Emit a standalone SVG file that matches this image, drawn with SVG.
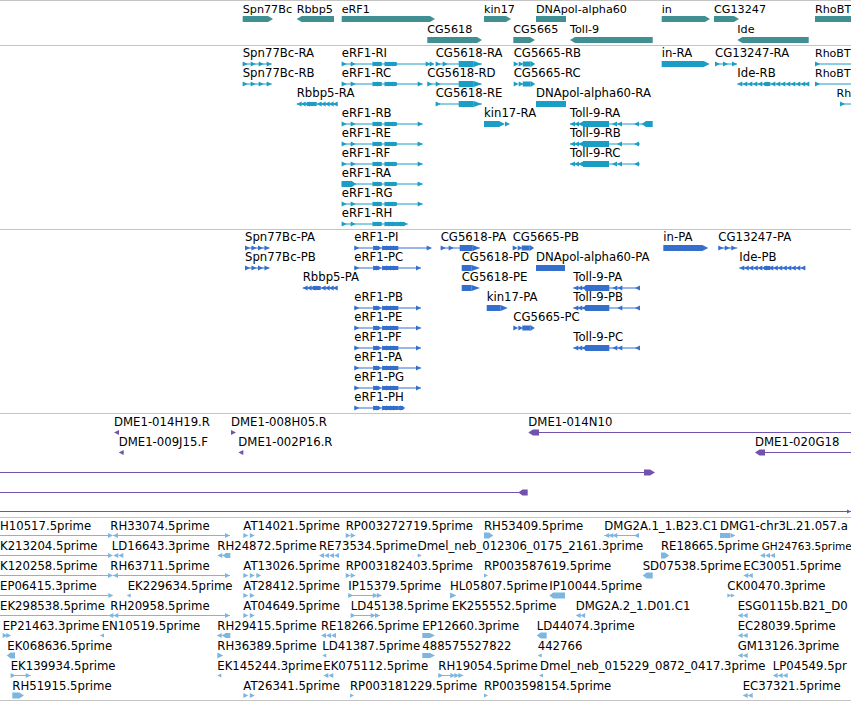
<svg xmlns="http://www.w3.org/2000/svg" width="851" height="701" viewBox="0 0 851 701">
<style>
text{font-family:"DejaVu Sans","Liberation Sans",sans-serif;font-size:11.7px;fill:#000}
#track-genes text{font-size:11.2px}
text.edge{font-size:11px}
text.edge2{font-size:10.5px}
.sep{stroke:#c4c4c4;stroke-width:1;fill:none}
.g{fill:#3f8f93}
.c2{color:#1b9ec5}
.c3{color:#346fcd}
.c4{color:#7352ae}
.c5{color:#7db6e0}
.ln{stroke:currentColor;stroke-width:1;fill:none}
.bx,use{fill:currentColor}
</style>
<defs>
<path id="R" d="M0,-2.5L5,0L0,2.5Z"/>
<path id="L" d="M5,-2.5L0,0L5,2.5Z"/>
<path id="Rs" d="M0,-2L4,0L0,2Z"/>
<path id="Ls" d="M4,-2L0,0L4,2Z"/>
<g id="s4a"><path class="ln" d="M0,0H29"/><use href="#R"/><use href="#R" x="8"/><use href="#R" x="16"/><use href="#R" x="24"/></g>
<g id="s4b"><path class="ln" d="M0,0H24.5"/><use href="#R"/><use href="#R" x="6.5"/><use href="#R" x="13"/><use href="#R" x="19.5"/></g>
<g id="e2b"><use href="#R"/><use href="#R" x="9"/><rect x="31" y="-2" width="9" height="4"/><use href="#R" x="31"/><use href="#R" x="35.5"/><rect x="43" y="-2" width="12" height="4"/><use href="#R" x="43"/><use href="#R" x="47"/><use href="#R" x="51"/></g>
<g id="e3b"><use href="#R"/><rect x="19" y="-2" width="6" height="4"/><use href="#R" x="19"/><use href="#R" x="22"/><rect x="28" y="-2" width="16" height="4"/><use href="#R" x="28"/><use href="#R" x="32"/><use href="#R" x="36"/><use href="#R" x="39"/></g>
<g id="e2"><path class="ln" d="M0,0H81"/><use href="#e2b"/><use href="#R" x="76"/></g>
<g id="e3"><path class="ln" d="M0,0H66.7"/><use href="#e3b"/><use href="#R" x="61.7"/></g>
<g id="toll2"><use href="#L"/><use href="#L" x="4"/><use href="#L" x="8"/><rect x="13" y="-3" width="26" height="6"/></g>
<g id="toll3"><use href="#L"/><use href="#L" x="4"/><use href="#L" x="8"/><rect x="12" y="-3" width="24" height="6"/></g>
</defs>

<g id="separators">
<path class="sep" d="M0,0.5H851M0,45.5H851M0,229.5H851M0,413.5H851M0,517.5H851M0,700.5H851"/>
</g>

<g id="track-genes">
<g id="Spn77Bc"><text x="242.7" y="12.5">Spn77Bc</text><path class="g" d="M242.7,16H268L273,19L268,22H242.7Z"/></g>
<g id="Rbbp5"><text x="296.7" y="12.5">Rbbp5</text><path class="g" d="M334,16H301.7L296.7,19L301.7,22H334Z"/></g>
<g id="eRF1"><text x="341.7" y="12.5">eRF1</text><path class="g" d="M341.7,16H430L435,19L430,22H341.7Z"/></g>
<g id="kin17"><text x="484" y="12.5">kin17</text><path class="g" d="M484,16H506L511,19L506,22H484Z"/></g>
<g id="DNApol-alpha60"><text x="536" y="12.5">DNApol-alpha60</text><rect class="g" x="536" y="16" width="30" height="6"/></g>
<g id="in"><text x="661.7" y="12.5">in</text><path class="g" d="M661.7,16H705L710,19L705,22H661.7Z"/></g>
<g id="CG13247"><text x="714" y="12.5">CG13247</text><path class="g" d="M714,16H734L739,19L734,22H714Z"/></g>
<g id="RhoBT"><text class="edge" x="815" y="12.5">RhoBT</text><rect class="g" x="815" y="16" width="36" height="6"/></g>
<g id="CG5618"><text x="427.3" y="33.3">CG5618</text><path class="g" d="M427.3,37H477L482,40L477,43H427.3Z"/></g>
<g id="CG5665"><text x="513.3" y="33.3">CG5665</text><path class="g" d="M513.3,37H530L535,40L530,43H513.3Z"/></g>
<g id="Toll-9"><text x="570" y="33.3">Toll-9</text><path class="g" d="M652.7,37H575L570,40L575,43H652.7Z"/></g>
<g id="Ide"><text x="737.3" y="33.3">Ide</text><path class="g" d="M808.7,37H742.3L737.3,40L742.3,43H808.7Z"/></g>
</g>

<g id="track-transcripts" class="c2">
<g id="Spn77Bc-RA" transform="translate(242.7,64)"><text y="-6.7">Spn77Bc-RA</text><use href="#s4a"/></g>
<g id="eRF1-RI" transform="translate(341.7,64)"><text y="-6.7">eRF1-RI</text><path class="ln" d="M0,0H91"/><use href="#e2b"/><use href="#R" x="84"/><use href="#R" x="88"/></g>
<g id="CG5618-RA" transform="translate(435.7,64)"><text y="-6.7">CG5618-RA</text><path class="ln" d="M0,0H46"/><use href="#R"/><use href="#R" x="7"/><rect class="bx" x="23" y="-3" width="15" height="6"/><path class="bx" d="M38,-3L46.3,0L38,3Z"/></g>
<g id="CG5665-RB" transform="translate(513.7,64)"><text y="-6.7">CG5665-RB</text><use href="#R"/><use href="#R" x="5"/><rect class="bx" x="9" y="-2.5" width="8" height="5"/><path class="bx" d="M17,-3L21.5,0L17,3Z"/></g>
<g id="in-RA" transform="translate(661.7,64)"><text y="-6.7">in-RA</text><path class="bx" d="M0,-3H42L48,0L42,3H0Z"/></g>
<g id="CG13247-RA" transform="translate(715,64)"><text y="-6.7">CG13247-RA</text><path class="ln" d="M0,0H22"/><use href="#R"/><use href="#R" x="8"/><use href="#R" x="17"/></g>
<g id="RhoBT-RA" transform="translate(815,64)"><text class="edge" y="-6.7">RhoBT</text><path class="ln" d="M0,0H36"/><use href="#R"/></g>

<g id="Spn77Bc-RB" transform="translate(242.7,84)"><text y="-6.7">Spn77Bc-RB</text><use href="#s4a"/></g>
<g id="eRF1-RC" transform="translate(341.7,84)"><text y="-6.7">eRF1-RC</text><use href="#e2"/></g>
<g id="CG5618-RD" transform="translate(427.3,84)"><text y="-6.7">CG5618-RD</text><path class="ln" d="M0,0H54"/><use href="#R"/><use href="#R" x="8.4"/><rect class="bx" x="31.4" y="-3" width="15" height="6"/><path class="bx" d="M46.4,-3L54.7,0L46.4,3Z"/></g>
<g id="CG5665-RC" transform="translate(513.7,84)"><text y="-6.7">CG5665-RC</text><use href="#R"/><use href="#R" x="5"/><rect class="bx" x="9" y="-2.5" width="8" height="5"/><path class="bx" d="M17,-3L21.5,0L17,3Z"/></g>
<g id="Ide-RB" transform="translate(737.3,84)"><text y="-6.7">Ide-RB</text><path class="ln" d="M0,0H71"/><use href="#L"/><use href="#L" x="5"/><use href="#L" x="10"/><use href="#L" x="15"/><use href="#L" x="20"/><use href="#L" x="25"/><rect class="bx" x="27" y="-2" width="6" height="4"/><use href="#L" x="33"/><use href="#L" x="38"/><use href="#L" x="43"/><use href="#L" x="48"/><use href="#L" x="53"/><use href="#L" x="58"/><use href="#L" x="63"/><use href="#L" x="67"/></g>
<g id="RhoBT-RB" transform="translate(815,84)"><text class="edge" y="-6.7">RhoBT</text><path class="ln" d="M0,0H36"/><use href="#R"/></g>

<g id="Rbbp5-RA" transform="translate(296.7,104)"><text y="-6.7">Rbbp5-RA</text><path class="ln" d="M0,0H41"/><use href="#L"/><use href="#L" x="4"/><use href="#L" x="8"/><rect class="bx" x="10" y="-2" width="10" height="4"/><use href="#L" x="20"/><use href="#L" x="24"/><use href="#L" x="28"/><use href="#L" x="32"/><use href="#L" x="36"/></g>
<g id="CG5618-RE" transform="translate(435.7,104)"><text y="-6.7">CG5618-RE</text><path class="ln" d="M0,0H46"/><use href="#R"/><rect class="bx" x="23" y="-3" width="15" height="6"/><path class="bx" d="M38,-3L46.3,0L38,3Z"/></g>
<g id="DNApol-alpha60-RA" transform="translate(536,104)"><text y="-6.7">DNApol-alpha60-RA</text><rect class="bx" x="0" y="-3" width="30" height="6"/></g>
<g id="Rh-RC" transform="translate(840,104)"><text class="edge" x="-3.5" y="-6.7">Rh</text><path class="ln" d="M0,0H11"/><use href="#R"/></g>

<g id="eRF1-RB" transform="translate(341.7,124)"><text y="-6.7">eRF1-RB</text><use href="#e2"/></g>
<g id="kin17-RA" transform="translate(484,124)"><text y="-6.7">kin17-RA</text><rect class="bx" x="0" y="-3" width="15" height="6"/><path class="bx" d="M15,-3L21,0L15,3Z"/><use href="#R" x="21"/></g>
<g id="Toll-9-RA" transform="translate(570,124)"><text y="-6.7">Toll-9-RA</text><path class="ln" d="M0,0H82"/><use href="#toll2"/><use href="#L" x="42"/><use href="#L" x="47"/><use href="#L" x="64"/><path class="bx" d="M71.7,0L76,-3H82.7V3H76Z"/></g>

<g id="eRF1-RE" transform="translate(341.7,144)"><text y="-6.7">eRF1-RE</text><use href="#e2"/></g>
<g id="Toll-9-RB" transform="translate(570,144)"><text y="-6.7">Toll-9-RB</text><path class="ln" d="M0,0H70"/><use href="#toll2"/><use href="#L" x="47"/><use href="#L" x="64"/></g>

<g id="eRF1-RF" transform="translate(341.7,164)"><text y="-6.7">eRF1-RF</text><use href="#e2"/></g>
<g id="Toll-9-RC" transform="translate(570,164)"><text y="-6.7">Toll-9-RC</text><path class="ln" d="M0,0H70"/><use href="#toll2"/><use href="#L" x="42"/><use href="#L" x="47"/><use href="#L" x="64"/></g>

<g id="eRF1-RA" transform="translate(341.7,184)"><text y="-6.7">eRF1-RA</text><use href="#e2"/><path class="bx" d="M0,-3H10L14.5,0L10,3H0Z"/></g>
<g id="eRF1-RG" transform="translate(341.7,204)"><text y="-6.7">eRF1-RG</text><use href="#e2"/></g>
<g id="eRF1-RH" transform="translate(341.7,224)"><text y="-6.7">eRF1-RH</text><path class="ln" d="M0,0H66"/><use href="#e2b"/><rect class="bx" x="55" y="-2" width="8" height="4"/><use href="#R" x="55"/><use href="#R" x="58.5"/><use href="#R" x="61"/></g>
</g>

<g id="track-proteins" class="c3">
<g id="Spn77Bc-PA" transform="translate(245,248)"><text y="-6.7">Spn77Bc-PA</text><use href="#s4b"/></g>
<g id="eRF1-PI" transform="translate(354.3,248)"><text y="-6.7">eRF1-PI</text><path class="ln" d="M0,0H77"/><use href="#e3b"/><use href="#R" x="72.4"/></g>
<g id="CG5618-PA" transform="translate(440.7,248)"><text y="-6.7">CG5618-PA</text><path class="ln" d="M0,0H39"/><use href="#R"/><use href="#R" x="8"/><rect class="bx" x="19" y="-3" width="13" height="6"/><path class="bx" d="M32,-3L39.3,0L32,3Z"/></g>
<g id="CG5665-PB" transform="translate(512.7,248)"><text y="-6.7">CG5665-PB</text><use href="#R"/><use href="#R" x="5"/><rect class="bx" x="9" y="-2.5" width="8" height="5"/><path class="bx" d="M17,-3L21.5,0L17,3Z"/></g>
<g id="in-PA" transform="translate(663.3,248)"><text y="-6.7">in-PA</text><path class="bx" d="M0,-3H39L45,0L39,3H0Z"/></g>
<g id="CG13247-PA" transform="translate(718.3,248)"><text y="-6.7">CG13247-PA</text><path class="ln" d="M0,0H19"/><use href="#R"/><use href="#R" x="6.5"/><use href="#R" x="13"/></g>

<g id="Spn77Bc-PB" transform="translate(245,268)"><text y="-6.7">Spn77Bc-PB</text><use href="#s4b"/></g>
<g id="eRF1-PC" transform="translate(354.3,268)"><text y="-6.7">eRF1-PC</text><use href="#e3"/></g>
<g id="CG5618-PD" transform="translate(461.7,268)"><text y="-6.7">CG5618-PD</text><rect class="bx" x="0" y="-3" width="10" height="6"/><path class="bx" d="M10,-3L18.3,0L10,3Z"/></g>
<g id="DNApol-alpha60-PA" transform="translate(536,268)"><text y="-6.7">DNApol-alpha60-PA</text><rect class="bx" x="0" y="-3" width="29" height="6"/></g>
<g id="Ide-PB" transform="translate(739.3,268)"><text y="-6.7">Ide-PB</text><path class="ln" d="M0,0H66"/><use href="#L"/><use href="#L" x="4.5"/><use href="#L" x="9"/><use href="#L" x="13.5"/><use href="#L" x="18"/><use href="#L" x="22.5"/><rect class="bx" x="25" y="-2" width="6" height="4"/><use href="#L" x="29"/><use href="#L" x="33.5"/><use href="#L" x="38"/><use href="#L" x="42.5"/><use href="#L" x="47"/><use href="#L" x="51.5"/><use href="#L" x="56"/><use href="#L" x="61"/></g>

<g id="Rbbp5-PA" transform="translate(302.7,288)"><text y="-6.7">Rbbp5-PA</text><path class="ln" d="M0,0H35"/><use href="#L"/><use href="#L" x="4"/><use href="#L" x="8"/><rect class="bx" x="10" y="-2" width="8" height="4"/><use href="#L" x="18"/><use href="#L" x="22"/><use href="#L" x="26"/><use href="#L" x="30"/></g>
<g id="CG5618-PE" transform="translate(461.7,288)"><text y="-6.7">CG5618-PE</text><rect class="bx" x="0" y="-3" width="10" height="6"/><path class="bx" d="M10,-3L18.3,0L10,3Z"/></g>
<g id="Toll-9-PA" transform="translate(573.3,288)"><text y="-6.7">Toll-9-PA</text><path class="ln" d="M0,0H66"/><use href="#toll3"/><use href="#L" x="39"/><use href="#L" x="44"/><use href="#L" x="61.7"/></g>

<g id="eRF1-PB" transform="translate(354.3,308)"><text y="-6.7">eRF1-PB</text><use href="#e3"/></g>
<g id="kin17-PA" transform="translate(486.7,308)"><text y="-6.7">kin17-PA</text><rect class="bx" x="0" y="-3" width="14" height="6"/><path class="bx" d="M14,-3L21,0L14,3Z"/></g>
<g id="Toll-9-PB" transform="translate(573.3,308)"><text y="-6.7">Toll-9-PB</text><path class="ln" d="M0,0H66"/><use href="#toll3"/><use href="#L" x="44"/><use href="#L" x="61.7"/></g>

<g id="eRF1-PE" transform="translate(354.3,328)"><text y="-6.7">eRF1-PE</text><use href="#e3"/></g>
<g id="CG5665-PC" transform="translate(513.3,328)"><text y="-6.7">CG5665-PC</text><use href="#R"/><use href="#R" x="5"/><rect class="bx" x="9" y="-2.5" width="8" height="5"/><path class="bx" d="M17,-3L21.5,0L17,3Z"/></g>

<g id="eRF1-PF" transform="translate(354.3,348)"><text y="-6.7">eRF1-PF</text><use href="#e3"/></g>
<g id="Toll-9-PC" transform="translate(573.3,348)"><text y="-6.7">Toll-9-PC</text><path class="ln" d="M0,0H66"/><use href="#toll3"/><use href="#L" x="39"/><use href="#L" x="44"/><use href="#L" x="61.7"/></g>

<g id="eRF1-PA" transform="translate(354.3,368)"><text y="-6.7">eRF1-PA</text><use href="#e3"/></g>
<g id="eRF1-PG" transform="translate(354.3,388)"><text y="-6.7">eRF1-PG</text><use href="#e3"/></g>
<g id="eRF1-PH" transform="translate(354.3,408)"><text y="-6.7">eRF1-PH</text><path class="ln" d="M0,0H50"/><use href="#e3b"/><rect class="bx" x="44" y="-2" width="5" height="4"/><use href="#R" x="46"/></g>
</g>

<g id="track-clones" class="c4">
<g id="DME1-014H19.R"><text x="114" y="426.3">DME1-014H19.R</text><path class="bx" d="M114,432.5L119,430V435Z"/></g>
<g id="DME1-009J15.F"><text x="118.7" y="446">DME1-009J15.F</text><path class="bx" d="M118.7,452.5L123.7,450V455Z"/></g>
<g id="DME1-008H05.R"><text x="231" y="426.3">DME1-008H05.R</text><path class="bx" d="M231,430V435L236,432.5Z"/></g>
<g id="DME1-002P16.R"><text x="238.3" y="446">DME1-002P16.R</text><path class="bx" d="M238.3,452.5L243.3,450V455Z"/></g>
<g id="DME1-014N10"><text x="528.3" y="426.3">DME1-014N10</text><path class="ln" d="M538,432.5H851"/><path class="bx" d="M528.3,432.5L533,429.5H539V435.5H533Z"/></g>
<g id="DME1-020G18"><text x="755" y="446">DME1-020G18</text><path class="ln" d="M764,452.5H851"/><path class="bx" d="M755,452.5L759.5,449.5H765V455.5H759.5Z"/></g>
<g id="clone-a"><path class="ln" d="M0,472.5H645"/><path class="bx" d="M644,469.5H650L655,472.5L650,475.5H644Z"/></g>
<g id="clone-b"><path class="ln" d="M0,492.5H519"/><path class="bx" d="M518.3,492.5L522.5,489.5H527.7V495.5H522.5Z"/></g>
<g id="clone-c"><path class="ln" d="M0,511.5H851"/><path class="bx" d="M847,509.5L851,511.5L847,513.5Z"/></g>
</g>

<g id="track-ests" class="c5">
<g transform="translate(0,535.5)">
<g id="H10517"><text y="-5.5">H10517.5prime</text><path class="ln" d="M0,0H108"/><use href="#R" x="108"/></g>
<g id="RH33074" transform="translate(110.3,0)"><text y="-5.5">RH33074.5prime</text><use href="#L" x="2.7"/><path class="ln" d="M2.7,0H119.7"/><use href="#R" x="114.7"/></g>
<g id="AT14021" transform="translate(243.3,0)"><text y="-5.5">AT14021.5prime</text><use href="#R"/><use href="#R" x="6.5"/></g>
<g id="RP003272719" transform="translate(345.7,0)"><text y="-5.5">RP003272719.5prime</text><use href="#R"/><use href="#R" x="5"/></g>
<g id="RH53409" transform="translate(484,0)"><text y="-5.5">RH53409.5prime</text><path class="bx" d="M0,-3H5L9.3,0L5,3H0Z"/></g>
<g id="DMG2A.1_1.B23.C1" transform="translate(604.3,0)"><text y="-5.5">DMG2A.1_1.B23.C1</text><path class="ln" d="M0,0H34.7"/><use href="#L"/><use href="#L" x="4"/><use href="#L" x="8"/><use href="#L" x="29.7"/></g>
<g id="DMG1-chr3L" transform="translate(720,0)"><text y="-5.5">DMG1-chr3L.21.057.a</text><rect class="bx" x="0" y="-2.5" width="10" height="5"/><use href="#R" x="6"/><use href="#R" x="10.5"/></g>
</g>
<g transform="translate(0,555.5)">
<g id="K213204"><text y="-5.5">K213204.5prime</text><path class="ln" d="M0,0H108"/><use href="#R" x="108"/></g>
<g id="LD16643" transform="translate(111.7,0)"><text y="-5.5">LD16643.3prime</text><use href="#L" x="1.6"/><use href="#L" x="6.6"/></g>
<g id="RH24872" transform="translate(217.3,0)"><text y="-5.5">RH24872.5prime</text><use href="#L"/><use href="#L" x="4.5"/><rect class="bx" x="8" y="-2.5" width="5" height="5"/></g>
<g id="RE73534" transform="translate(319,0)"><text y="-5.5">RE73534.5prime</text><use href="#L"/><use href="#L" x="5"/><use href="#L" x="10"/><use href="#L" x="15"/></g>
<g id="Dmel_neb_012306" transform="translate(417.7,0)"><text y="-5.5">Dmel_neb_012306_0175_2161.3prime</text><use href="#Rs"/></g>
<g id="RE18665" transform="translate(661,0)"><text y="-5.5">RE18665.5prime</text><path class="bx" d="M0,-3H4L8.3,0L4,3H0Z"/></g>
<g id="GH24763" transform="translate(761.7,0)"><text class="edge2" y="-5.5">GH24763.5prime</text><use href="#L" x="-1.7"/><use href="#L" x="3.3"/><use href="#L" x="8.3"/></g>
</g>
<g transform="translate(0,575.5)">
<g id="K120258"><text y="-5.5">K120258.5prime</text><path class="ln" d="M0,0H108"/><use href="#R" x="108"/></g>
<g id="RH63711" transform="translate(110.3,0)"><text y="-5.5">RH63711.5prime</text><use href="#L" x="2.7"/><path class="ln" d="M2.7,0H119.7"/><use href="#R" x="114.7"/></g>
<g id="AT13026" transform="translate(243.3,0)"><text y="-5.5">AT13026.5prime</text><use href="#R"/><use href="#R" x="6.5"/><use href="#R" x="13"/></g>
<g id="RP003182403" transform="translate(345.7,0)"><text y="-5.5">RP003182403.5prime</text><use href="#R"/><use href="#R" x="5"/></g>
<g id="RP003587619" transform="translate(484,0)"><text y="-5.5">RP003587619.5prime</text><use href="#Rs"/></g>
<g id="SD07538" transform="translate(642.7,0)"><text y="-5.5">SD07538.5prime</text><path class="bx" d="M0,0L4,-3H10V3H4Z"/></g>
<g id="EC30051" transform="translate(743.3,0)"><text y="-5.5">EC30051.5prime</text><use href="#L"/><use href="#L" x="4.5"/></g>
</g>
<g transform="translate(0,595.5)">
<g id="EP06415"><text y="-5.5">EP06415.3prime</text><path class="ln" d="M0,0H108.3"/><use href="#R" x="108.3"/></g>
<g id="EK229634" transform="translate(127.7,0)"><text y="-5.5">EK229634.5prime</text><use href="#Ls" x="-1"/></g>
<g id="AT28412" transform="translate(243.3,0)"><text y="-5.5">AT28412.5prime</text><use href="#R"/><use href="#R" x="6.5"/></g>
<g id="IP15379" transform="translate(348.3,0)"><text y="-5.5">IP15379.5prime</text><path class="ln" d="M0,0H33"/><use href="#R"/><use href="#R" x="24.5"/><use href="#R" x="28.5"/></g>
<g id="HL05807" transform="translate(450,0)"><text y="-5.5">HL05807.5prime</text><path class="bx" d="M0,-3L6.5,0L0,3Z"/></g>
<g id="IP10044" transform="translate(549.3,0)"><text y="-5.5">IP10044.5prime</text><path class="bx" d="M0,0L4,-3H15.7V3H4Z"/></g>
<g id="CK00470" transform="translate(727.3,0)"><text y="-5.5">CK00470.3prime</text><use href="#Rs"/><use href="#Rs" x="3.5"/></g>
</g>
<g transform="translate(0,615.5)">
<g id="EK298538"><text y="-5.5">EK298538.5prime</text><path class="ln" d="M0,0H108.3"/></g>
<g id="RH20958" transform="translate(110.3,0)"><text y="-5.5">RH20958.5prime</text><use href="#L" x="-2"/><use href="#L" x="3"/><path class="ln" d="M-2,0H119.7"/><use href="#R" x="114.7"/></g>
<g id="AT04649" transform="translate(243.3,0)"><text y="-5.5">AT04649.5prime</text><use href="#R"/><use href="#R" x="6.5"/></g>
<g id="LD45138" transform="translate(350.7,0)"><text y="-5.5">LD45138.5prime</text><path class="ln" d="M0,0H29"/><use href="#R"/><use href="#R" x="20"/><use href="#R" x="24.3"/></g>
<g id="EK255552" transform="translate(451.7,0)"><text y="-5.5">EK255552.5prime</text></g>
<g id="DMG2A.2_1.D01.C1" transform="translate(575.7,0)"><text y="-5.5">DMG2A.2_1.D01.C1</text><use href="#L"/><use href="#L" x="4.5"/></g>
<g id="ESG0115b" transform="translate(737.7,0)"><text y="-5.5">ESG0115b.B21_D0</text><use href="#L"/><use href="#L" x="5"/></g>
</g>
<g transform="translate(0,635.5)">
<g id="EP21463" transform="translate(2.7,0)"><text y="-5.5">EP21463.3prime</text><use href="#R"/><use href="#R" x="3.5"/></g>
<g id="EN10519" transform="translate(101.7,0)"><text y="-5.5">EN10519.5prime</text><use href="#Ls" x="-1.7"/></g>
<g id="RH29415" transform="translate(217.3,0)"><text y="-5.5">RH29415.5prime</text><use href="#L" x="-0.6"/><use href="#L" x="4"/><rect class="bx" x="8" y="-2.5" width="5" height="5"/></g>
<g id="RE18266" transform="translate(321,0)"><text y="-5.5">RE18266.5prime</text><use href="#L"/><use href="#L" x="5"/><use href="#L" x="10"/></g>
<g id="EP12660" transform="translate(422.3,0)"><text y="-5.5">EP12660.3prime</text><rect class="bx" x="0" y="-2.5" width="8" height="5"/><use href="#R" x="3"/><use href="#R" x="7.7"/></g>
<g id="LD44074" transform="translate(536.7,0)"><text y="-5.5">LD44074.3prime</text><path class="bx" d="M0,0L4,-3H10V3H4Z"/></g>
<g id="EC28039" transform="translate(737.7,0)"><text y="-5.5">EC28039.5prime</text><use href="#L"/><use href="#L" x="5"/></g>
</g>
<g transform="translate(0,655.5)">
<g id="EK068636" transform="translate(7.3,0)"><text y="-5.5">EK068636.5prime</text><path class="bx" d="M-0.6,0L3.4,-3H7.7V3H3.4Z"/></g>
<g id="RH36389" transform="translate(217.3,0)"><text y="-5.5">RH36389.5prime</text><path class="bx" d="M0,-3L6,0L0,3Z"/></g>
<g id="LD41387" transform="translate(322.3,0)"><text y="-5.5">LD41387.5prime</text><use href="#Ls"/></g>
<g id="488575527822" transform="translate(422.3,0)"><text y="-5.5">488575527822</text><rect class="bx" x="0" y="-2.5" width="8" height="5"/><use href="#R" x="3"/><use href="#R" x="7.7"/></g>
<g id="442766" transform="translate(537.7,0)"><text y="-5.5">442766</text><use href="#Ls"/></g>
<g id="GM13126" transform="translate(737.7,0)"><text y="-5.5">GM13126.3prime</text><use href="#L"/><use href="#L" x="5"/></g>
</g>
<g transform="translate(0,675.5)">
<g id="EK139934" transform="translate(10.7,0)"><text y="-5.5">EK139934.5prime</text><path class="ln" d="M0,0H20"/><use href="#R"/><use href="#R" x="15"/></g>
<g id="EK145244" transform="translate(217.3,0)"><text y="-5.5">EK145244.3prime</text><use href="#Ls"/></g>
<g id="EK075112" transform="translate(323.3,0)"><text y="-5.5">EK075112.5prime</text><use href="#L"/><use href="#L" x="5"/></g>
<g id="RH19054" transform="translate(438.3,0)"><text y="-5.5">RH19054.5prime</text><path class="ln" d="M0,0H25"/><use href="#R"/><use href="#R" x="12"/><use href="#R" x="16"/><use href="#R" x="20"/></g>
<g id="Dmel_neb_015229" transform="translate(540,0)"><text y="-5.5">Dmel_neb_015229_0872_0417.3prime</text><use href="#Ls" x="-1"/></g>
<g id="LP04549" transform="translate(772.7,0)"><text y="-5.5">LP04549.5pr</text><use href="#L"/><use href="#L" x="5"/><use href="#L" x="10"/></g>
</g>
<g transform="translate(0,695.5)">
<g id="RH51915" transform="translate(12.3,0)"><text y="-5.5">RH51915.5prime</text><path class="bx" d="M0,-3H7L11.7,0L7,3H0Z"/></g>
<g id="AT26341" transform="translate(243.3,0)"><text y="-5.5">AT26341.5prime</text><use href="#R"/><use href="#R" x="6.5"/></g>
<g id="RP003181229" transform="translate(350,0)"><text y="-5.5">RP003181229.5prime</text><use href="#Rs"/></g>
<g id="RP003598154" transform="translate(484,0)"><text y="-5.5">RP003598154.5prime</text><use href="#Rs"/></g>
<g id="EC37321" transform="translate(742.7,0)"><text y="-5.5">EC37321.5prime</text><use href="#L"/><use href="#L" x="5"/></g>
</g>
</g>
</svg>
